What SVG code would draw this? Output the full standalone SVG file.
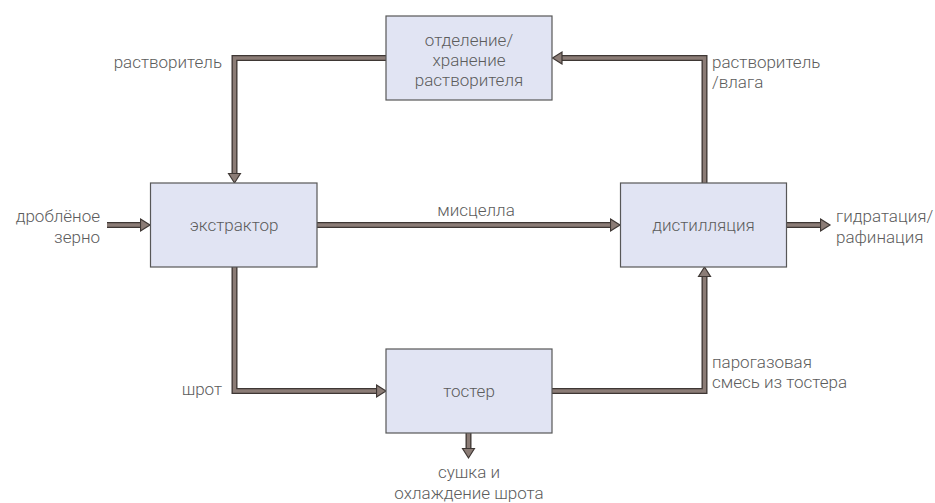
<svg xmlns="http://www.w3.org/2000/svg" width="935" height="503" viewBox="0 0 935 503">
<style>
.box{fill:#e1e4f3;stroke:#575757;stroke-width:1.2}
.t{font-family:Roboto,"Liberation Sans",sans-serif;font-weight:300;font-size:17px;fill:#5c5c5c}
.m{text-anchor:middle}
.e{text-anchor:end}
.o{fill:none;stroke:#3e3734;stroke-width:6;stroke-linejoin:miter}
.i{fill:none;stroke:#8b7c76;stroke-width:3.4;stroke-linejoin:miter}
</style>
<defs>
<marker id="ah" markerUnits="userSpaceOnUse" viewBox="-1 -8 12 16" markerWidth="12" markerHeight="16" refX="0" refY="0" orient="auto">
<polygon points="0,-6 9.5,0 0,6" fill="#8b7c76" stroke="#3e3734" stroke-width="1.2" stroke-linejoin="miter"/>
</marker>
</defs>
<rect width="935" height="503" fill="#fff"/>
<g id="connectors">
<path class="o" d="M386,58 H234.5 V173.5"/>
<path class="i" d="M386,58 H234.5 V173.5" marker-end="url(#ah)"/>
<path class="o" d="M704.5,183 V58 H562"/>
<path class="i" d="M704.5,183 V58 H562" marker-end="url(#ah)"/>
<path class="o" d="M317,225 H610.5"/>
<path class="i" d="M317,225 H610.5" marker-end="url(#ah)"/>
<path class="o" d="M107,225 H140.5"/>
<path class="i" d="M107,225 H140.5" marker-end="url(#ah)"/>
<path class="o" d="M786,225 H820.5"/>
<path class="i" d="M786,225 H820.5" marker-end="url(#ah)"/>
<path class="o" d="M234.5,267 V391 H376.5"/>
<path class="i" d="M234.5,267 V391 H376.5" marker-end="url(#ah)"/>
<path class="o" d="M552,391 H704.5 V276.5"/>
<path class="i" d="M552,391 H704.5 V276.5" marker-end="url(#ah)"/>
<path class="o" d="M468.5,433 V448.5"/>
<path class="i" d="M468.5,433 V448.5" marker-end="url(#ah)"/>
</g>
<g id="separation">
<rect class="box" x="386" y="16" width="166" height="84"/>
<text class="t m" x="469" y="46">отделение/</text>
<text class="t m" x="469" y="66">хранение</text>
<text class="t m" x="469" y="86">растворителя</text>
</g>
<g id="extractor">
<rect class="box" x="150.5" y="183" width="166.5" height="84"/>
<text class="t m" x="234" y="231">экстрактор</text>
</g>
<g id="distillation">
<rect class="box" x="620.5" y="183" width="166" height="84"/>
<text class="t m" x="703.5" y="231">дистилляция</text>
</g>
<g id="toaster">
<rect class="box" x="386" y="349" width="166" height="84"/>
<text class="t m" x="469" y="397">тостер</text>
</g>
<g id="labels">
<text class="t e" x="222" y="68">растворитель</text>
<text class="t" x="712" y="68">растворитель</text>
<text class="t" x="712" y="88">/влага</text>
<text class="t e" x="100" y="222">дроблёное</text>
<text class="t e" x="100" y="243">зерно</text>
<text class="t m" x="476" y="216">мисцелла</text>
<text class="t" x="836" y="222">гидратация/</text>
<text class="t" x="836" y="243">рафинация</text>
<text class="t e" x="222" y="395">шрот</text>
<text class="t" x="712" y="368">парогазовая</text>
<text class="t" x="712" y="388">смесь из тостера</text>
<text class="t m" x="469" y="478">сушка и</text>
<text class="t m" x="469" y="499">охлаждение шрота</text>
</g>
</svg>
